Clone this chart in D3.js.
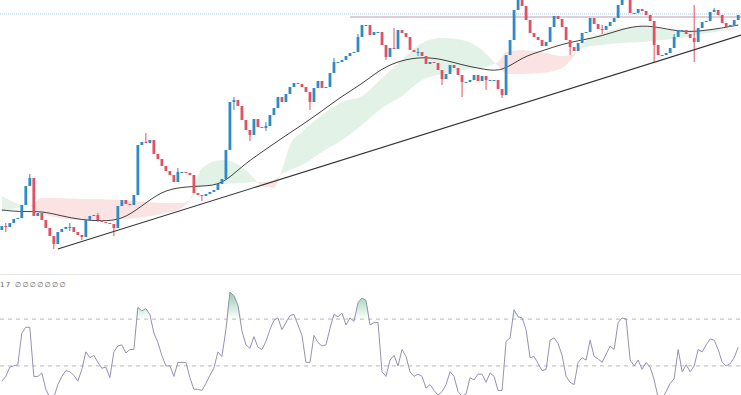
<!DOCTYPE html>
<html lang="en">
<head>
<meta charset="UTF-8">
<title>Price chart with cloud and RSI</title>
<script src="https://d3js.org/d3.v7.min.js"></script>
<style>
  html, body { margin: 0; padding: 0; background: #fff; overflow: hidden; }
  svg { display: block; }
</style>
</head>
<body>
<div id="chart"></div>
<script>
// candle closes (open = previous close)
const firstOpen = 30;
const closes = [
  34,33,37,41,42,55,74,82,44,47,
  40,32,24,16,28,31,33,33,28,25,
  23,40,44,45,40,38,37,36,32,54,
  60,56,55,65,115,118,117,120,106,101,
  94,89,85,78,88,88,87,85,67,65,
  64,66,68,70,76,81,110,158,160,154,
  140,130,125,141,133,132,134,145,152,163,
  158,166,173,177,176,173,168,158,172,179,
  172,173,187,198,198,200,204,207,208,223,
  235,235,225,228,228,215,203,212,211,230,
  227,223,210,208,208,204,196,198,197,190,
  181,186,195,192,185,178,178,180,185,179,
  184,180,180,180,171,165,205,220,250,262,
  254,240,227,223,220,214,218,233,244,241,
  233,220,213,209,217,227,228,242,236,231,
  230,234,238,242,255,264,265,247,247,251,
  249,245,239,215,205,205,207,212,223,230,
  230,226,222,218,232,238,239,248,250,245,
  237,233,235,240,245
];

// longer wicks
const wickIdx  = [1, 7, 13, 17, 20, 24, 28, 36, 44, 50, 58, 62, 66, 77, 83, 89, 96, 98, 104, 110, 115, 121, 125, 129, 142, 150, 155, 163, 168, 173, 178];
const wickHigh = [37, 86, null, 37, null, 47, null, 127, 92, null, 163, null, 138, null, 202, 226, null, 232, 212, null, null, null, null, 266, null, 235, 268, null, 226, 255, 252];
const wickLow  = [28, null, 11, 29, 20, 38, 24, null, 84, 59, 150, 119, 129, 150, 194, null, 200, null, 204, 175, 163, 170, 162, null, 205, 226, null, 198, 220, 198, null];

// moving average
const maIdx = [0,5,10,15,20,25,30,35,40,45,50,55,60,65,70,75,80,85,90,95,100,105,110,115,120,125,130,135,140,145,150,155,160,165,170,175,180,184];
const maValues = [50,48,49,44,40,39,40,54,69,73,74,75,94,108,122,135,149,164,176,192,200,203,201,195,191,188,203,209,216,220,224,231,235,232,228,229,232,235];

// cloud spans
const cloudIdx = [0,5,7,10,20,30,40,45,47,50,55,60,63,65,68,70,72,75,80,85,90,95,100,105,110,115,120,123,124,126,130,135,140,143,145,150,155,160,165,170,175,180,184];
const spanA = [64,55,54,46,40,41,46,52,60,92,100,93,82,74,72,90,115,128,145,158,164,182,200,217,222,220,210,198,194,186,186,187,192,204,216,227,232,233,231,229,230,231,232];
const spanB = [48,53,54,62,61,60,57,57,60,74,76,77,78,78,80,86,90,95,108,120,135,152,164,180,186,190,192,196,198,208,210,208,204,206,212,215,217,218,220,222,226,229,231];

// trend line and levels
const trendIdx = [14, 184];
const trendValues = [11, 224];
const resistanceStart = 87;
const resistanceLevel = 243;
const topLevel = 246;

// RSI
const rsiValues = [
  17,21,29,30,31,58,63,63,21,21,
  24,10,3,3,14,21,26,25,22,17,
  27,42,37,39,33,28,29,20,42,47,
  48,41,44,44,80,77,79,74,58,50,
  39,30,30,21,33,33,33,20,10,10,
  9,15,22,28,42,38,61,93,90,82,
  60,48,45,55,46,44,51,61,69,71,
  61,67,73,74,65,56,33,33,56,50,
  47,48,62,74,72,75,65,71,68,84,
  88,86,65,67,67,25,21,35,39,30,
  44,38,25,21,23,21,11,14,9,5,
  8,14,25,21,8,4,6,20,18,23,
  23,16,24,21,9,9,51,54,78,72,
  71,61,37,38,32,26,27,52,54,49,
  39,21,16,14,33,37,35,52,38,36,
  33,40,47,44,67,71,70,35,30,35,
  27,33,29,18,3,2,8,15,19,44,
  25,31,25,30,44,42,48,53,52,44,
  33,30,32,37,46
];
const rsiLevels = [70, 30];
const rsiLabel = "17 \u2205\u2205\u2205\u2205\u2205\u2205\u2205";

const width = 741, height = 395;
const mainTop = 0, mainBottom = 273;
const rsiTop = 276, rsiBottom = 395;

const svg = d3.select("#chart").append("svg")
    .attr("width", width)
    .attr("height", height);

const defs = svg.append("defs");
defs.append("clipPath").attr("id", "clip-main")
    .append("rect").attr("x", 0).attr("y", mainTop).attr("width", width).attr("height", mainBottom - mainTop);
defs.append("clipPath").attr("id", "clip-rsi")
    .append("rect").attr("x", 0).attr("y", rsiTop).attr("width", width).attr("height", rsiBottom - rsiTop);

const x = d3.scaleBand().domain(d3.range(closes.length)).range([0, 740]).paddingInner(0.3).paddingOuter(0.1);
const cx = i => x(i) + x.bandwidth() / 2;
const y = d3.scaleLinear().domain([0, 260]).range([260, 0]);
const yR = d3.scaleLinear().domain([0, 100]).range([401, 284]);

const candles = closes.map((c, i) => {
    const o = i === 0 ? firstOpen : closes[i - 1];
    let h = Math.max(o, c), l = Math.min(o, c);
    const k = wickIdx.indexOf(i);
    if (k >= 0) {
        if (wickHigh[k] != null) h = Math.max(h, wickHigh[k]);
        if (wickLow[k] != null) l = Math.min(l, wickLow[k]);
    }
    return {i, o, c, h, l};
});

const main = svg.append("g").attr("clip-path", "url(#clip-main)");

// cloud (difference chart)
const cloud = cloudIdx.map((idx, k) => ({i: idx, a: spanA[k], b: spanB[k]}));
const curve = d3.curveMonotoneX;
defs.append("clipPath").attr("id", "clip-below")
    .append("path").datum(cloud)
    .attr("d", d3.area().curve(curve).x(d => cx(d.i)).y0(height).y1(d => y(d.a)));
defs.append("clipPath").attr("id", "clip-above")
    .append("path").datum(cloud)
    .attr("d", d3.area().curve(curve).x(d => cx(d.i)).y0(0).y1(d => y(d.a)));

const between = d3.area().curve(curve).x(d => cx(d.i)).y0(d => y(d.b)).y1(d => y(d.a));
main.append("path").datum(cloud)
    .attr("clip-path", "url(#clip-below)")
    .attr("fill", "#e2f2e6")
    .attr("d", between);
main.append("path").datum(cloud)
    .attr("clip-path", "url(#clip-above)")
    .attr("fill", "#fbe3e3")
    .attr("d", between);

// top dotted level and resistance
main.append("line")
    .attr("x1", 0).attr("x2", width)
    .attr("y1", y(topLevel)).attr("y2", y(topLevel))
    .attr("stroke", "#a9c9e6").attr("stroke-width", 1)
    .attr("stroke-dasharray", "1,1");
main.append("line")
    .attr("x1", cx(resistanceStart)).attr("x2", width)
    .attr("y1", y(resistanceLevel)).attr("y2", y(resistanceLevel))
    .attr("stroke", "#c49cae").attr("stroke-width", 1);

// moving average
const ma = maIdx.map((idx, k) => ({i: idx, v: maValues[k]}));
main.append("path").datum(ma)
    .attr("fill", "none")
    .attr("stroke", "#2a2a2a")
    .attr("stroke-width", 0.9)
    .attr("d", d3.line().curve(d3.curveBasis).x(d => cx(d.i)).y(d => y(d.v)));

// candles
const cg = main.selectAll(".candle").data(candles).enter().append("g").attr("class", "candle");
const colorOf = d => d.c >= d.o ? "#2f8bc2" : "#e2515f";
cg.append("line")
    .attr("x1", d => cx(d.i)).attr("x2", d => cx(d.i))
    .attr("y1", d => y(d.h)).attr("y2", d => y(d.l))
    .attr("stroke", colorOf).attr("stroke-width", 1);
cg.append("rect")
    .attr("x", d => x(d.i))
    .attr("width", x.bandwidth())
    .attr("y", d => y(Math.max(d.o, d.c)))
    .attr("height", d => Math.max(1, Math.abs(y(d.o) - y(d.c))))
    .attr("fill", colorOf);

// trend line
const slope = (trendValues[1] - trendValues[0]) / (cx(trendIdx[1]) - cx(trendIdx[0]));
main.append("line")
    .attr("x1", cx(trendIdx[0])).attr("y1", y(trendValues[0]))
    .attr("x2", width).attr("y2", y(trendValues[1] + slope * (width - cx(trendIdx[1]))))
    .attr("stroke", "#333").attr("stroke-width", 1.1);

// pane separator
svg.append("line")
    .attr("x1", 0).attr("x2", width)
    .attr("y1", 274.5).attr("y2", 274.5)
    .attr("stroke", "#e6e6e6").attr("stroke-width", 1);

// RSI pane
const rsiG = svg.append("g").attr("clip-path", "url(#clip-rsi)");
const grad = defs.append("linearGradient").attr("id", "ob-grad")
    .attr("gradientUnits", "userSpaceOnUse")
    .attr("x1", 0).attr("x2", 0)
    .attr("y1", yR(70)).attr("y2", yR(100));
grad.append("stop").attr("offset", "0%").attr("stop-color", "#3fae6a").attr("stop-opacity", 0);
grad.append("stop").attr("offset", "100%").attr("stop-color", "#3fae6a").attr("stop-opacity", 0.75);

rsiG.append("path").datum(rsiValues)
    .attr("fill", "url(#ob-grad)")
    .attr("d", d3.area().x((d, i) => cx(i)).y0(yR(70)).y1(d => yR(Math.max(d, 70))));

rsiG.selectAll(".level").data(rsiLevels).enter().append("line")
    .attr("class", "level")
    .attr("x1", 0).attr("x2", width)
    .attr("y1", d => yR(d)).attr("y2", d => yR(d))
    .attr("stroke", "#b8b8b8").attr("stroke-width", 1)
    .attr("stroke-dasharray", "4,4");

rsiG.append("path").datum(rsiValues)
    .attr("fill", "none")
    .attr("stroke", "#9690b6")
    .attr("stroke-width", 1)
    .attr("d", d3.line().x((d, i) => cx(i)).y(d => yR(d)));

svg.append("text")
    .attr("x", 0).attr("y", 287)
    .attr("font-family", "DejaVu Sans, sans-serif")
    .attr("font-size", 7)
    .attr("letter-spacing", 1.3)
    .attr("fill", "#666")
    .text(rsiLabel);
</script>
</body>
</html>
